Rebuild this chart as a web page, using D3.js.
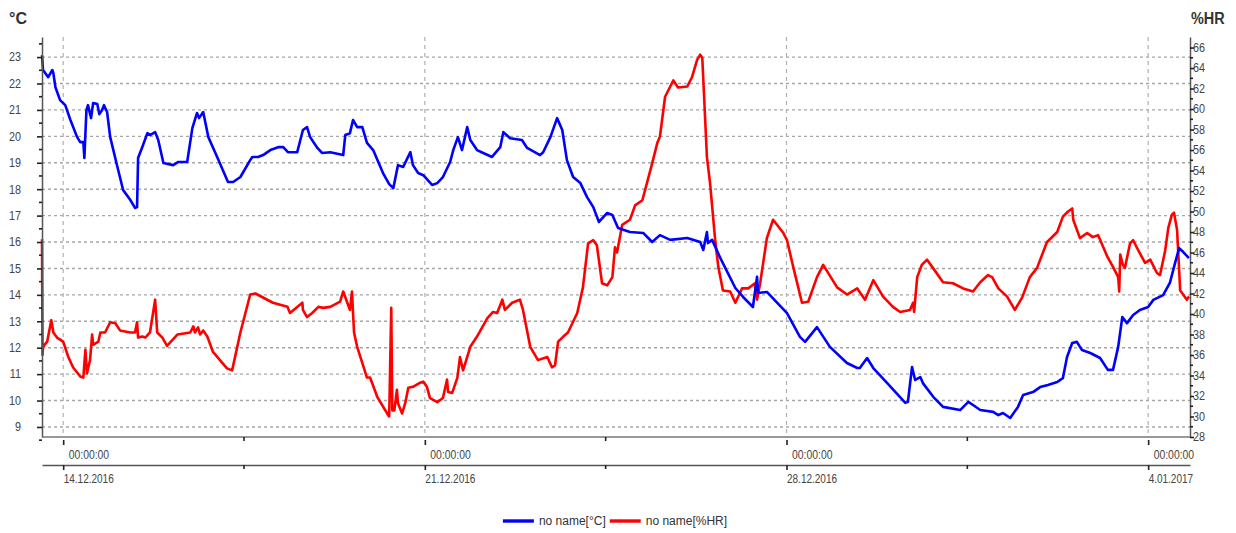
<!DOCTYPE html>
<html>
<head>
<meta charset="utf-8">
<script src="https://cdn.jsdelivr.net/npm/d3@7"></script>
<style>
  html, body { margin: 0; padding: 0; background: #fff; }
  svg { display: block; }
  .lbl { font-family: "Liberation Sans", Arial, sans-serif; font-size: 12px; fill: #444; }
  .lbl2 { font-family: "Liberation Sans", Arial, sans-serif; font-size: 13.5px; fill: #444; }
  .ttl { font-family: "Liberation Sans", Arial, sans-serif; font-size: 16px; font-weight: bold; fill: #333; }
  .leg { font-family: "Liberation Sans", Arial, sans-serif; font-size: 12px; fill: #333; }
</style>
</head>
<body>
<svg id="chart" width="1236" height="533"></svg>
<script>
// days after 14.12.2016 00:00
const tempDays = [-0.41, -0.39, -0.29, -0.21, -0.19, -0.15, -0.06, 0.04, 0.14, 0.27, 0.33, 0.39, 0.41, 0.45, 0.48, 0.54, 0.58, 0.66, 0.70, 0.75, 0.79, 0.85, 0.91, 1.05, 1.16, 1.30, 1.39, 1.43, 1.45, 1.53, 1.63, 1.68, 1.78, 1.84, 1.94, 2.13, 2.23, 2.40, 2.50, 2.59, 2.63, 2.71, 2.81, 2.98, 3.19, 3.29, 3.43, 3.62, 3.66, 3.77, 3.87, 4.01, 4.16, 4.26, 4.35, 4.53, 4.64, 4.72, 4.78, 4.92, 5.01, 5.17, 5.42, 5.46, 5.55, 5.61, 5.69, 5.79, 5.88, 6.00, 6.19, 6.31, 6.39, 6.48, 6.58, 6.72, 6.77, 6.87, 6.97, 7.14, 7.24, 7.35, 7.49, 7.55, 7.64, 7.72, 7.82, 7.88, 8.01, 8.13, 8.30, 8.46, 8.52, 8.65, 8.88, 8.98, 9.23, 9.29, 9.43, 9.56, 9.66, 9.75, 9.87, 10.01, 10.14, 10.26, 10.37, 10.53, 10.63, 10.74, 10.97, 11.23, 11.40, 11.55, 11.75, 12.08, 12.33, 12.39, 12.46, 12.48, 12.56, 12.72, 13.01, 13.16, 13.35, 13.43, 13.45, 13.62, 14.01, 14.26, 14.36, 14.59, 14.84, 15.17, 15.37, 15.42, 15.56, 15.68, 15.95, 16.30, 16.35, 16.43, 16.49, 16.59, 16.64, 16.84, 17.03, 17.36, 17.52, 17.61, 17.75, 18.00, 18.10, 18.19, 18.33, 18.48, 18.58, 18.77, 18.91, 19.06, 19.24, 19.35, 19.43, 19.53, 19.62, 19.72, 19.88, 20.07, 20.22, 20.32, 20.42, 20.50, 20.59, 20.71, 20.84, 21.00, 21.10, 21.29, 21.42, 21.52, 21.60, 21.68, 21.79];
const tempValues = [23.07, 22.51, 22.24, 22.51, 22.39, 21.86, 21.37, 21.18, 20.62, 19.97, 19.78, 19.78, 19.18, 20.99, 21.18, 20.69, 21.26, 21.22, 20.84, 20.99, 21.18, 20.92, 19.97, 18.84, 17.97, 17.59, 17.29, 17.32, 19.18, 19.59, 20.12, 20.05, 20.16, 19.86, 18.99, 18.91, 19.03, 19.03, 20.31, 20.88, 20.69, 20.92, 19.97, 19.22, 18.27, 18.27, 18.46, 19.10, 19.22, 19.22, 19.29, 19.48, 19.59, 19.59, 19.40, 19.40, 20.24, 20.35, 19.97, 19.56, 19.37, 19.40, 19.29, 20.05, 20.12, 20.62, 20.35, 20.35, 19.75, 19.48, 18.61, 18.19, 18.04, 18.91, 18.84, 19.40, 18.91, 18.61, 18.53, 18.16, 18.23, 18.46, 19.03, 19.48, 19.97, 19.48, 20.35, 19.86, 19.48, 19.37, 19.22, 19.59, 20.16, 19.93, 19.86, 19.56, 19.29, 19.40, 19.97, 20.69, 20.24, 19.10, 18.46, 18.23, 17.70, 17.32, 16.76, 17.10, 17.02, 16.53, 16.38, 16.34, 16.00, 16.26, 16.08, 16.15, 16.00, 15.70, 16.38, 15.96, 16.08, 15.39, 14.26, 13.92, 13.54, 14.68, 14.07, 14.11, 13.31, 12.41, 12.22, 12.78, 12.03, 11.42, 11.23, 11.23, 11.61, 11.23, 10.66, 9.91, 9.95, 11.27, 10.78, 10.89, 10.66, 10.14, 9.76, 9.64, 9.95, 9.83, 9.64, 9.57, 9.45, 9.53, 9.34, 9.76, 10.21, 10.32, 10.51, 10.59, 10.70, 10.85, 11.65, 12.18, 12.22, 11.91, 11.80, 11.61, 11.16, 11.16, 12.03, 13.16, 12.93, 13.24, 13.43, 13.54, 13.81, 13.99, 14.45, 15.20, 15.77, 15.62, 15.39];

const humDays = [-0.41, -0.40, -0.39, -0.31, -0.23, -0.19, -0.12, 0.00, 0.10, 0.19, 0.33, 0.39, 0.43, 0.46, 0.52, 0.56, 0.58, 0.68, 0.72, 0.81, 0.91, 1.01, 1.10, 1.30, 1.39, 1.43, 1.45, 1.53, 1.59, 1.68, 1.78, 1.82, 1.92, 2.01, 2.21, 2.46, 2.52, 2.55, 2.61, 2.65, 2.71, 2.79, 2.90, 3.17, 3.27, 3.43, 3.62, 3.72, 4.06, 4.34, 4.39, 4.63, 4.64, 4.72, 4.82, 4.94, 5.03, 5.17, 5.36, 5.42, 5.50, 5.55, 5.59, 5.61, 5.63, 5.69, 5.88, 5.94, 6.08, 6.27, 6.31, 6.35, 6.37, 6.41, 6.46, 6.48, 6.56, 6.62, 6.68, 6.77, 6.91, 6.97, 7.04, 7.10, 7.24, 7.35, 7.43, 7.45, 7.53, 7.63, 7.68, 7.74, 7.88, 8.01, 8.21, 8.32, 8.40, 8.50, 8.55, 8.69, 8.84, 8.90, 9.04, 9.19, 9.37, 9.46, 9.52, 9.58, 9.68, 9.77, 9.95, 10.06, 10.16, 10.26, 10.33, 10.43, 10.53, 10.63, 10.68, 10.72, 10.82, 10.97, 11.07, 11.21, 11.30, 11.40, 11.50, 11.55, 11.65, 11.75, 11.81, 11.90, 12.08, 12.17, 12.27, 12.33, 12.37, 12.46, 12.52, 12.62, 12.68, 12.77, 12.91, 13.01, 13.14, 13.26, 13.39, 13.43, 13.49, 13.62, 13.74, 13.94, 14.01, 14.13, 14.30, 14.42, 14.59, 14.71, 14.98, 15.17, 15.37, 15.52, 15.68, 15.87, 16.06, 16.20, 16.39, 16.45, 16.47, 16.53, 16.62, 16.72, 16.82, 17.03, 17.22, 17.42, 17.61, 17.75, 17.90, 17.98, 18.10, 18.27, 18.42, 18.56, 18.71, 18.85, 19.04, 19.24, 19.35, 19.45, 19.53, 19.55, 19.68, 19.82, 19.93, 20.03, 20.21, 20.32, 20.42, 20.44, 20.46, 20.51, 20.55, 20.65, 20.71, 20.81, 20.94, 21.04, 21.17, 21.23, 21.33, 21.39, 21.46, 21.50, 21.56, 21.62, 21.75, 21.79];
const humValues = [47.3, 36.0, 36.8, 37.3, 39.4, 38.2, 37.7, 37.3, 35.8, 34.8, 33.9, 33.8, 36.5, 34.2, 35.5, 38.0, 37.0, 37.3, 38.2, 38.2, 39.2, 39.1, 38.4, 38.2, 38.2, 39.2, 37.7, 37.8, 37.7, 38.2, 41.4, 38.2, 37.7, 36.9, 38.0, 38.2, 38.8, 38.2, 38.7, 38.0, 38.4, 37.8, 36.3, 34.7, 34.5, 38.2, 41.9, 42.0, 41.1, 40.7, 40.1, 41.1, 40.4, 39.7, 40.1, 40.7, 40.6, 40.7, 41.2, 42.2, 41.1, 40.4, 42.2, 40.1, 38.2, 36.8, 33.8, 33.8, 31.9, 30.3, 30.0, 40.6, 30.6, 30.6, 32.6, 31.3, 30.3, 31.3, 32.8, 32.9, 33.3, 33.4, 32.9, 31.8, 31.4, 31.8, 33.6, 32.4, 32.3, 33.8, 35.8, 34.5, 36.8, 37.8, 39.6, 40.2, 40.1, 41.4, 40.4, 41.1, 41.4, 40.4, 36.8, 35.5, 35.8, 34.8, 35.0, 37.3, 37.8, 38.2, 40.1, 42.6, 46.9, 47.2, 46.7, 43.0, 42.8, 43.6, 46.5, 46.0, 48.7, 49.2, 50.6, 51.1, 52.8, 54.7, 56.7, 57.3, 61.2, 62.2, 62.8, 62.1, 62.2, 63.1, 64.8, 65.3, 65.0, 55.3, 52.8, 47.2, 44.6, 42.3, 42.2, 41.1, 42.5, 42.5, 43.0, 41.4, 43.0, 47.4, 49.2, 47.9, 47.2, 44.6, 41.1, 41.2, 43.6, 44.8, 42.6, 41.9, 42.5, 41.4, 43.3, 41.7, 40.7, 40.2, 40.4, 41.1, 40.2, 43.6, 44.8, 45.3, 44.6, 43.1, 43.0, 42.5, 42.2, 43.1, 43.8, 43.6, 42.5, 41.7, 40.4, 41.6, 43.6, 44.5, 47.0, 48.0, 49.5, 50.0, 50.3, 49.2, 47.4, 47.9, 47.5, 47.7, 45.6, 44.6, 43.6, 42.2, 45.8, 44.8, 44.5, 46.9, 47.2, 46.2, 45.0, 45.3, 44.0, 43.8, 46.2, 48.4, 49.7, 49.9, 48.2, 42.3, 41.4, 41.7];

const tempTicks = [9, 10, 11, 12, 13, 14, 15, 16, 17, 18, 19, 20, 21, 22, 23];
const humTicks = [28, 30, 32, 34, 36, 38, 40, 42, 44, 46, 48, 50, 52, 54, 56, 58, 60, 62, 64, 66];
const dateTickDays = [0, 7, 14, 21];
const minorDateTickDays = [3.5, 10.5, 17.5];
const seriesNames = ['no name[°C]', 'no name[%HR]'];
const seriesColors = ['#0000ff', '#ff0000'];

const START = new Date(2016, 11, 14);
const toDate = (d) => new Date(START.getTime() + d * 864e5);

const SVG = d3.select('#chart');
const LEFT = 42, RIGHT = 1190, TOP = 37, BOTTOM = 437;

const X = d3.scaleTime().domain([toDate(-0.41), toDate(21.81)]).range([LEFT, RIGHT]);
const YT = d3.scaleLinear().domain([8.62, 23.76]).range([BOTTOM, TOP]);
const YH = d3.scaleLinear().domain([28, 67.03]).range([BOTTOM, TOP]);

// narrow the labels a bit, the source font is condensed
function squeeze(sel, k) {
  sel.each((d, i, n) => {
    const len = n[i].getComputedTextLength();
    d3.select(n[i]).attr('textLength', len * k).attr('lengthAdjust', 'spacingAndGlyphs');
  });
}

// grid
const GRID = SVG.append('g').attr('id', 'grid');
tempTicks.forEach((v) => {
  GRID.append('line')
    .attr('x1', LEFT).attr('x2', RIGHT)
    .attr('y1', YT(v)).attr('y2', YT(v))
    .style('stroke', '#a6a6a6').style('stroke-width', 1.4)
    .style('stroke-dasharray', '3,3');
});
dateTickDays.forEach((d) => {
  GRID.append('line')
    .attr('x1', X(toDate(d))).attr('x2', X(toDate(d)))
    .attr('y1', TOP).attr('y2', BOTTOM)
    .style('stroke', '#b0b0b0').style('stroke-width', 1.2)
    .style('stroke-dasharray', '4,4');
});

// lines
const tempData = tempDays.map((d, i) => ({ t: toDate(d), v: tempValues[i] }));
const humData = humDays.map((d, i) => ({ t: toDate(d), v: humValues[i] }));

SVG.append('path')
  .datum(humData)
  .attr('d', d3.line().x((d) => X(d.t)).y((d) => YH(d.v)))
  .style('fill', 'none').style('stroke', seriesColors[1]).style('stroke-width', 2.6)
  .style('stroke-linejoin', 'round');
SVG.append('path')
  .datum(tempData)
  .attr('d', d3.line().x((d) => X(d.t)).y((d) => YT(d.v)))
  .style('fill', 'none').style('stroke', seriesColors[0]).style('stroke-width', 2.6)
  .style('stroke-linejoin', 'round');

// left axis
const Y_AXIS_G = SVG.append('g').attr('transform', `translate(${LEFT},0)`);
Y_AXIS_G.call(d3.axisLeft(YT).tickValues(tempTicks).tickSize(5).tickPadding(16).tickSizeOuter(0));
Y_AXIS_G.selectAll('.tick line').style('stroke', '#222').style('stroke-width', 1.6);
Y_AXIS_G.select('.domain').style('stroke', '#555').style('stroke-width', 1.5);
Y_AXIS_G.selectAll('text').attr('class', 'lbl').call(squeeze, 0.9);
d3.range(8.5, 24, 1).forEach((v) => {
  Y_AXIS_G.append('line').attr('x1', -3).attr('x2', 0).attr('y1', YT(v)).attr('y2', YT(v))
    .style('stroke', '#222').style('stroke-width', 1.6);
});

// right axis
const Y2_AXIS_G = SVG.append('g').attr('transform', `translate(${RIGHT},0)`);
Y2_AXIS_G.call(d3.axisRight(YH).tickValues(humTicks).tickSize(4).tickPadding(0).tickSizeOuter(0));
Y2_AXIS_G.selectAll('.tick line').style('stroke', '#222').style('stroke-width', 1.6);
Y2_AXIS_G.select('.domain').style('stroke', '#555').style('stroke-width', 1.5);
Y2_AXIS_G.selectAll('text').attr('class', 'lbl').attr('x', 3).call(squeeze, 0.9);
d3.range(29, 67, 2).forEach((v) => {
  Y2_AXIS_G.append('line').attr('x1', 0).attr('x2', 3).attr('y1', YH(v)).attr('y2', YH(v))
    .style('stroke', '#222').style('stroke-width', 1.6);
});

// bottom: plot base line + two label rows
SVG.append('line').attr('x1', LEFT).attr('x2', RIGHT).attr('y1', BOTTOM).attr('y2', BOTTOM)
  .style('stroke', '#777').style('stroke-width', 1.6);

const TIME_G = SVG.append('g').attr('transform', 'translate(0,440)');
TIME_G.call(d3.axisBottom(X).tickValues(dateTickDays.map(toDate)).tickSize(5).tickSizeOuter(0)
  .tickFormat(d3.timeFormat('%H:%M:%S')));
TIME_G.select('.domain').remove();
TIME_G.selectAll('.tick line').style('stroke', '#222').style('stroke-width', 1.6);
TIME_G.selectAll('text').attr('class', 'lbl2').attr('text-anchor', 'start').attr('x', 5).attr('y', 9)
  .call(squeeze, 0.77);
minorDateTickDays.forEach((d) => {
  SVG.append('line').attr('x1', X(toDate(d))).attr('x2', X(toDate(d))).attr('y1', BOTTOM).attr('y2', BOTTOM + 4)
    .style('stroke', '#222').style('stroke-width', 1.6);
});

const DATE_G = SVG.append('g').attr('transform', 'translate(0,465)');
DATE_G.call(d3.axisBottom(X).tickValues(dateTickDays.map(toDate)).tickSize(5).tickSizeOuter(0)
  .tickFormat(d3.timeFormat('%-d.%m.%Y')));
DATE_G.select('.domain').style('stroke', '#555').style('stroke-width', 1.5);
DATE_G.selectAll('.tick line').style('stroke', '#222').style('stroke-width', 1.6);
DATE_G.selectAll('text').attr('class', 'lbl2').attr('text-anchor', 'start').attr('x', 0).attr('y', 8)
  .call(squeeze, 0.74);
minorDateTickDays.forEach((d) => {
  DATE_G.append('line').attr('x1', X(toDate(d))).attr('x2', X(toDate(d))).attr('y1', 0).attr('y2', 4)
    .style('stroke', '#222').style('stroke-width', 1.6);
});

// unit titles
SVG.append('text').attr('class', 'ttl').attr('x', 9).attr('y', 24).text('°C');
SVG.append('text').attr('class', 'ttl').attr('x', 1191).attr('y', 24).text('%HR')
  .call(squeeze, 0.9);

// legend
const LEGEND = SVG.append('g');
let cx = 0;
seriesNames.forEach((name, i) => {
  const g = LEGEND.append('g').attr('transform', `translate(${cx},0)`);
  g.append('line').attr('x1', 0).attr('x2', 31).attr('y1', 0).attr('y2', 0)
    .style('stroke', seriesColors[i]).style('stroke-width', 3.4);
  const t = g.append('text').attr('class', 'leg').attr('x', 36).attr('y', 4).text(name);
  cx += 36 + t.node().getComputedTextLength() + 4;
});
LEGEND.attr('transform', `translate(${615 - (cx - 4) / 2},521)`);
</script>
</body>
</html>
